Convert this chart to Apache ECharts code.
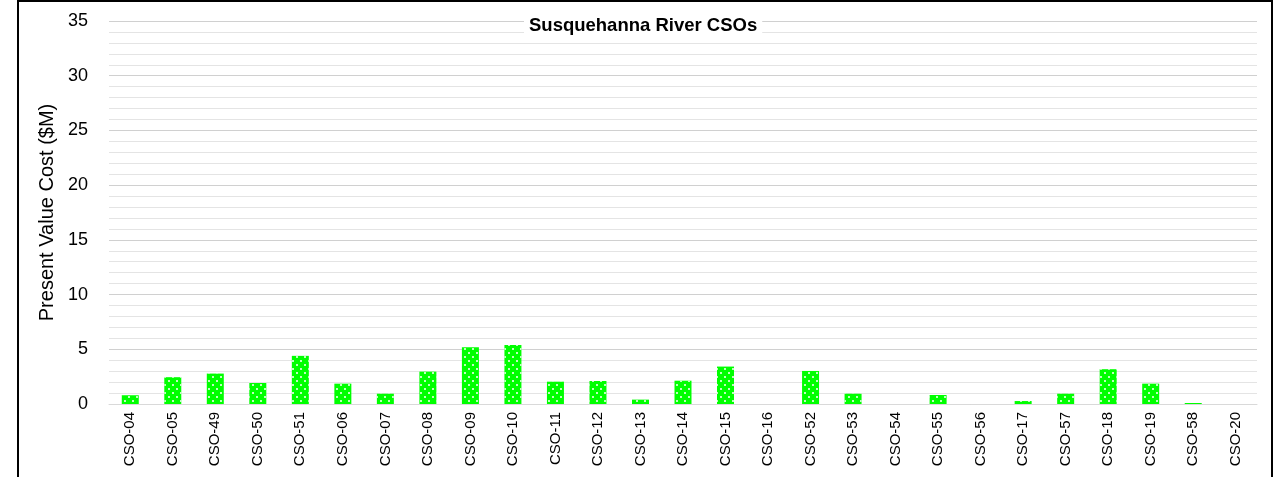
<!DOCTYPE html>
<html>
<head>
<meta charset="utf-8">
<script src="https://cdn.jsdelivr.net/npm/echarts@6/dist/echarts.min.js"></script>
<style>
  html, body { margin: 0; padding: 0; background: #fff; overflow: hidden; }
  #chart { width: 1284px; height: 477px; }
</style>
</head>
<body>
<div id="chart"></div>
<script>
// Susquehanna River CSOs - present value cost
var categories = ['CSO-04', 'CSO-05', 'CSO-49', 'CSO-50', 'CSO-51', 'CSO-06', 'CSO-07', 'CSO-08', 'CSO-09',
  'CSO-10', 'CSO-11', 'CSO-12', 'CSO-13', 'CSO-14', 'CSO-15', 'CSO-16', 'CSO-52', 'CSO-53', 'CSO-54',
  'CSO-55', 'CSO-56', 'CSO-17', 'CSO-57', 'CSO-18', 'CSO-19', 'CSO-58', 'CSO-20']
var costValues = [0.8, 2.45, 2.78, 1.92, 4.4, 1.86, 0.94, 2.96, 5.18,
  5.4, 2.04, 2.1, 0.4, 2.13, 3.42, 0, 3.02, 0.94, 0,
  0.82, 0, 0.27, 0.94, 3.18, 1.86, 0.09, 0]
var yTicks = [0, 5, 10, 15, 20, 25, 30, 35]

var font = 'Liberation Sans, Arial, sans-serif'
var chart = echarts.init(document.getElementById('chart'))

chart.setOption({
  animation: false,
  title: {
    text: 'Susquehanna River CSOs',
    left: 524,
    top: 15,
    padding: [1, 5],
    backgroundColor: '#fff',
    textStyle: { fontFamily: font, fontSize: 18.5, fontWeight: 'bold', color: '#000' }
  },
  grid: { left: 109, right: 27, top: 21, bottom: 73 },
  xAxis: {
    type: 'category',
    data: categories,
    axisLine: { lineStyle: { color: '#d9d9d9', width: 1 } },
    axisTick: { show: false },
    axisLabel: { rotate: 90, margin: 8, fontFamily: font, fontSize: 15, color: '#000', interval: 0 }
  },
  yAxis: {
    type: 'value',
    min: yTicks[0],
    max: yTicks[yTicks.length - 1],
    interval: 5,
    name: 'Present Value Cost ($M)',
    nameLocation: 'middle',
    nameGap: 50,
    nameTextStyle: { fontFamily: font, fontSize: 20, color: '#000' },
    axisLine: { show: false },
    axisTick: { show: false },
    axisLabel: { margin: 21, fontFamily: font, fontSize: 18, color: '#000' },
    splitLine: { lineStyle: { color: '#d0d0d0', width: 1 } },
    minorTick: { show: false, splitNumber: 5 },
    minorSplitLine: { show: true, lineStyle: { color: '#e4e4e4', width: 1 } }
  },
  series: [{
    type: 'bar',
    data: costValues,
    barWidth: 17,
    itemStyle: {
      color: '#00ff00',
      decal: {
        symbol: 'circle',
        symbolSize: 1,
        color: '#ffffff',
        dashArrayX: [[2, 6], [0, 4, 2, 2]],
        dashArrayY: [2, 2],
        rotation: 0
      }
    }
  }],
  graphic: [{
    type: 'rect',
    shape: { x: 18, y: 1, width: 1254, height: 520 },
    style: { fill: 'none', stroke: '#000', lineWidth: 2 },
    silent: true
  }]
})
</script>
</body>
</html>
